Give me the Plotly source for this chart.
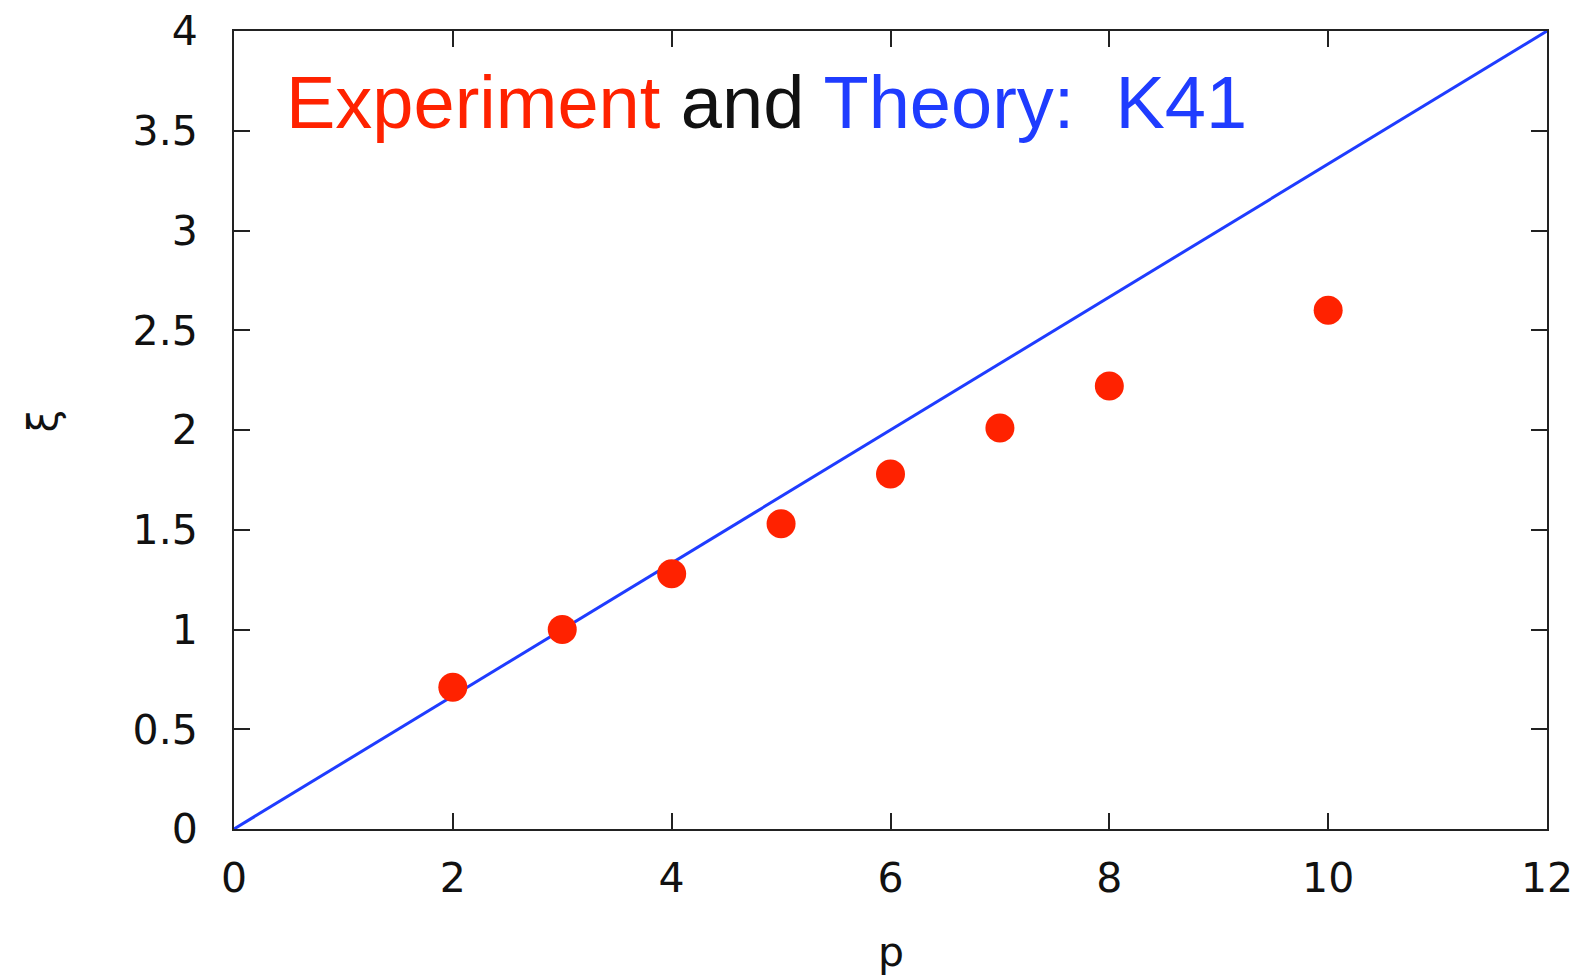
import plotly.graph_objects as go

# Structure-function exponents: measured values and the K41 prediction xi = p/3
p_exp = [2, 3, 4, 5, 6, 7, 8, 10]
xi_exp = [0.71, 1.00, 1.28, 1.53, 1.78, 2.01, 2.22, 2.60]

p_k41 = [0, 12]
xi_k41 = [p / 3 for p in p_k41]

x_ticks = [0, 2, 4, 6, 8, 10, 12]
y_ticks = [0, 0.5, 1, 1.5, 2, 2.5, 3, 3.5, 4]
y_tick_text = ["0", "0.5", "1", "1.5", "2", "2.5", "3", "3.5", "4"]

RED = "#ff2200"
BLUE = "#1f3cff"
TICK_FONT = "DejaVu Sans"
TITLE_FONT = "Liberation Sans"

fig = go.Figure()
fig.add_trace(go.Scatter(
    x=p_k41, y=xi_k41, mode="lines",
    line=dict(color=BLUE, width=3), showlegend=False, cliponaxis=False,
))
fig.add_trace(go.Scatter(
    x=p_exp, y=xi_exp, mode="markers",
    marker=dict(color=RED, size=29, line=dict(width=0)), showlegend=False,
))

axis_common = dict(
    showgrid=False, zeroline=False, showline=True, mirror="ticks",
    linecolor="#222222", linewidth=2, ticks="inside", ticklen=16,
    tickwidth=2, tickcolor="#222222", automargin=False,
    tickfont=dict(family=TICK_FONT, size=41, color="#111111"),
)

fig.update_layout(
    width=1580, height=976,
    margin=dict(l=234, r=33, t=31, b=147),
    paper_bgcolor="white", plot_bgcolor="white",
    xaxis=dict(range=[0, 12], tickvals=x_ticks, ticktext=[str(v) for v in x_ticks],
               ticklabelstandoff=12, **axis_common),
    yaxis=dict(range=[0, 4], tickvals=y_ticks, ticktext=y_tick_text,
               ticklabelstandoff=26, **axis_common),
    annotations=[
        dict(
            xref="paper", yref="paper", x=0.038, y=0.911, xanchor="left", yanchor="middle",
            showarrow=False,
            text=(f"<span style='color:{RED}'>Experiment</span>"
                  f"<span style='color:#111111'> and </span>"
                  f"<span style='color:{BLUE}'>Theory:  K41</span>"),
            font=dict(family=TITLE_FONT, size=74),
        ),
        # axis titles
        dict(xref="paper", yref="paper", x=0.5, y=-0.154, xanchor="center", yanchor="middle",
             showarrow=False, text="p", font=dict(family=TICK_FONT, size=41, color="#111111")),
        dict(xref="paper", yref="paper", x=-0.1455, y=0.512, xanchor="center", yanchor="middle",
             showarrow=False, text="ξ", textangle=-90,
             font=dict(family=TICK_FONT, size=41, color="#111111")),
    ],
)

fig.write_html("out.html")
